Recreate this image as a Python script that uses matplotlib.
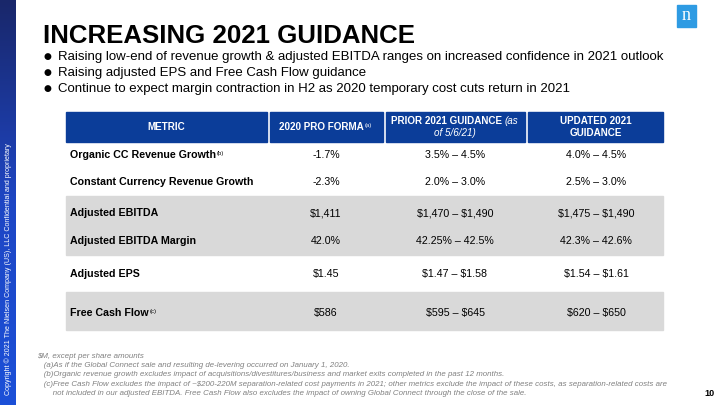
import numpy as np
import matplotlib.pyplot as plt
from matplotlib.patches import Rectangle
from matplotlib.colors import LinearSegmentedColormap

plt.rcParams['font.family'] = ['Liberation Sans', 'DejaVu Sans']
plt.rcParams['text.parse_math'] = False

title = 'INCREASING 2021 GUIDANCE'
bullets = [
    'Raising low-end of revenue growth & adjusted EBITDA ranges on increased confidence in 2021 outlook',
    'Raising adjusted EPS and Free Cash Flow guidance',
    'Continue to expect margin contraction in H2 as 2020 temporary cost cuts return in 2021',
]

metrics = ['Organic CC Revenue Growth', 'Constant Currency Revenue Growth',
           'Adjusted EBITDA', 'Adjusted EBITDA Margin', 'Adjusted EPS', 'Free Cash Flow']
metric_notes = ['(b)', '', '', '', '', '(c)']
pro_forma_2020 = ['-1.7%', '-2.3%', '$1,411', '42.0%', '$1.45', '$586']
prior_2021 = ['3.5% \u2013 4.5%', '2.0% \u2013 3.0%', '$1,470 \u2013 $1,490',
              '42.25% \u2013 42.5%', '$1.47 \u2013 $1.58', '$595 \u2013 $645']
updated_2021 = ['4.0% \u2013 4.5%', '2.5% \u2013 3.0%', '$1,475 \u2013 $1,490',
                '42.3% \u2013 42.6%', '$1.54 \u2013 $1.61', '$620 \u2013 $650']

footnotes = [
    '$M, except per share amounts',
    '   (a)As if the Global Connect sale and resulting de-levering occurred on January 1, 2020.',
    '   (b)Organic revenue growth excludes impact of acquisitions/divestitures/business and market exits completed in the past 12 months.',
    '   (c)Free Cash Flow excludes the impact of ~$200-220M separation-related cost payments in 2021; other metrics exclude the impact of these costs, as separation-related costs are',
    '       not included in our adjusted EBITDA. Free Cash Flow also excludes the impact of owning Global Connect through the close of the sale.',
]

# layout (pixels)
col_edges = [(66, 267), (270, 383), (386, 525), (528, 663)]
col_centers = [166, 326, 455, 596]
row_y = [155, 182, 213, 241, 274, 313]
gray_bands = [(196, 255), (292, 330)]
navy = '#0b3d99'

fig = plt.figure(figsize=(7.2, 4.05), dpi=100)
ax = fig.add_axes([0, 0, 1, 1])
ax.set_xlim(0, 720)
ax.set_ylim(405, 0)
ax.axis('off')

# left gradient strip
grad = np.linspace(0, 1, 256).reshape(-1, 1)
cmap = LinearSegmentedColormap.from_list('strip', ['#19276a', '#1e46c4', '#1b50d8'])
ax.imshow(grad, extent=[0, 16, 405, 0], aspect='auto', cmap=cmap, zorder=1)
ax.text(8, 395, 'Copyright \u00a9 2021 The Nielsen Company (US), LLC Confidential and proprietary',
        rotation=90, color='white', fontsize=5.1, ha='center', va='bottom')

# logo
ax.add_patch(Rectangle((677, 5), 19, 22, color='#2e9be3', zorder=2))
ax.text(686.5, 16, 'n', color='white', fontsize=13, family='Liberation Serif',
        ha='center', va='center', zorder=3)

ax.text(43, 43, title, fontsize=18.6, fontweight='bold', va='baseline')
for i, b in enumerate(bullets):
    y = 57 + 16 * i
    ax.text(44, y, '\u25cf', fontsize=6.5, va='center', family='DejaVu Sans')
    ax.text(58, y, b, fontsize=9.55, va='center')

# header
for x0, x1 in col_edges:
    ax.add_patch(Rectangle((x0, 112), x1 - x0, 29.5, color=navy, zorder=2))

fig.canvas.draw()
renderer = fig.canvas.get_renderer()
inv = ax.transData.inverted()


def width_of(t):
    bb = t.get_window_extent(renderer)
    return bb.width


def sup(t, note, size):
    bb = t.get_window_extent(renderer)
    x, y = inv.transform((bb.x1, bb.y1))
    ax.text(x + 0.5, y + 0.5, note, fontsize=size, color=t.get_color(),
            va='top', ha='left', zorder=4)


hs = 7.1
ax.text(col_centers[0], 127, 'METRIC', color='white', fontsize=hs, fontweight='bold',
        ha='center', va='center', zorder=3)
t = ax.text(279, 127, '2020 PRO FORMA', color='white', fontsize=hs, fontweight='bold',
            ha='left', va='center', zorder=3)
sup(t, '(a)', 4.2)

# two-style first line of the PRIOR header, centred as a whole
ta = ax.text(0, 121, 'PRIOR 2021 GUIDANCE ', color='white', fontsize=hs,
             fontweight='bold', ha='left', va='center', zorder=3)
tb = ax.text(0, 121, '(as', color='white', fontsize=hs, style='italic',
             ha='left', va='center', zorder=3)
wa, wb = width_of(ta), width_of(tb)
x_start = col_centers[2] - (wa + wb) / 2
ta.set_x(x_start)
tb.set_x(x_start + wa)
ax.text(col_centers[2], 133.5, 'of 5/6/21)', color='white', fontsize=hs, style='italic',
        ha='center', va='center', zorder=3)
ax.text(col_centers[3], 121, 'UPDATED 2021', color='white', fontsize=hs, fontweight='bold',
        ha='center', va='center', zorder=3)
ax.text(col_centers[3], 133.5, 'GUIDANCE', color='white', fontsize=hs, fontweight='bold',
        ha='center', va='center', zorder=3)

for y0, y1 in gray_bands:
    ax.add_patch(Rectangle((66, y0), 663 - 66, y1 - y0, color='#d9d9d9', zorder=1))

rs = 7.7
for i, m in enumerate(metrics):
    y = row_y[i]
    t = ax.text(70, y, m, fontsize=rs, fontweight='bold', va='center', zorder=3)
    if metric_notes[i]:
        sup(t, metric_notes[i], 4.2)
    ax.text(col_centers[1], y, pro_forma_2020[i], fontsize=rs, ha='center', va='center', zorder=3)
    ax.text(col_centers[2], y, prior_2021[i], fontsize=rs, ha='center', va='center', zorder=3)
    ax.text(col_centers[3], y, updated_2021[i], fontsize=rs, ha='center', va='center', zorder=3)

for i, f in enumerate(footnotes):
    ax.text(37, 356 + 9.4 * i, f, fontsize=5.7, style='italic', color='#808080', va='center')

ax.text(709, 394, '10', fontsize=6.5, fontweight='bold', ha='center', va='center')

fig.savefig('out.png', dpi=100)
